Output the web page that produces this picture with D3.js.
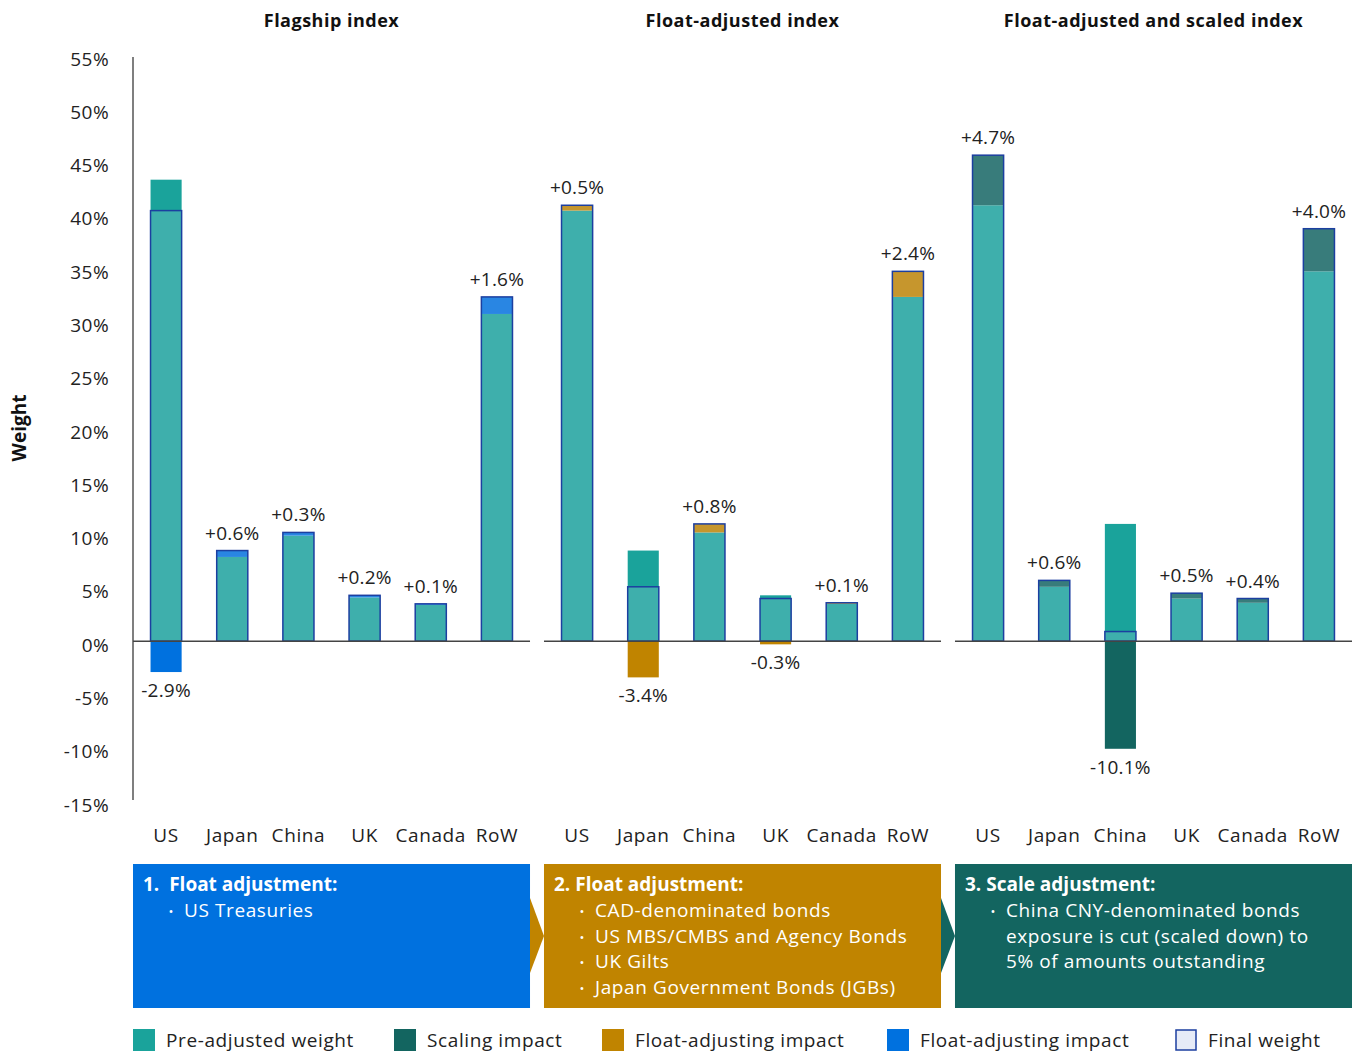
<!DOCTYPE html>
<html lang="en">
  <head>
    <meta charset="UTF-8" />
    <title>Index weights</title>
    <script src="https://cdn.jsdelivr.net/npm/d3@7"></script>
    <style>
      html,
      body {
        margin: 0;
        padding: 0;
        background: #fff;
      }
      text {
        font-family: 'Open Sans', Lato, sans-serif;
      }
    </style>
  </head>
  <body>
    <script>
      // data (% weight)
      const countries = ['US', 'Japan', 'China', 'UK', 'Canada', 'RoW'];
      const panelTitles = [
        'Flagship index',
        'Float-adjusted index',
        'Float-adjusted and scaled index',
      ];

      const preFlagship = [43.3, 7.9, 9.9, 4.1, 3.4, 30.7];
      const impactFlagship = [-2.9, 0.6, 0.3, 0.2, 0.1, 1.6];

      const preFloat = [40.4, 8.5, 10.2, 4.3, 3.5, 32.3];
      const impactFloat = [0.5, -3.4, 0.8, -0.3, 0.1, 2.4];

      const preScaled = [40.9, 5.1, 11.0, 4.0, 3.6, 34.7];
      const impactScaled = [4.7, 0.6, -10.1, 0.5, 0.4, 4.0];

      const yTickValues = [-15, -10, -5, 0, 5, 10, 15, 20, 25, 30, 35, 40, 45, 50, 55];

      const boxTitles = ['1.  Float adjustment:', '2. Float adjustment:', '3. Scale adjustment:'];
      const boxBullets = [
        [['US Treasuries']],
        [
          ['CAD-denominated bonds'],
          ['US MBS/CMBS and Agency Bonds'],
          ['UK Gilts'],
          ['Japan Government Bonds (JGBs)'],
        ],
        [['China CNY-denominated bonds', 'exposure is cut (scaled down) to', '5% of amounts outstanding']],
      ];

      const legendLabels = [
        'Pre-adjusted weight',
        'Scaling impact',
        'Float-adjusting impact',
        'Float-adjusting impact',
        'Final weight',
      ];

      const colors = {
        pre: '#1aa39b',
        scaling: '#136560',
        gold: '#c08400',
        blue: '#0071df',
        finalFill: '#e6ebf7',
        finalStroke: '#1c3fa0',
      };

      const panels = [
        { title: panelTitles[0], pre: preFlagship, impact: impactFlagship, color: colors.blue },
        { title: panelTitles[1], pre: preFloat, impact: impactFloat, color: colors.gold },
        { title: panelTitles[2], pre: preScaled, impact: impactScaled, color: colors.scaling },
      ];
      const boxColors = [colors.blue, colors.gold, colors.scaling];

      const width = 1356,
        height = 1053;

      const svg = d3
        .select('body')
        .append('svg')
        .attr('width', width)
        .attr('height', height);

      const y = d3.scaleLinear().domain([-15, 55]).range([801, 55]);

      const panelX = d3
        .scaleBand()
        .domain(d3.range(panels.length))
        .range([133, 1352])
        .paddingInner(0.034)
        .paddingOuter(0);

      const x = d3
        .scaleBand()
        .domain(countries)
        .range([0, panelX.bandwidth()])
        .paddingInner(0.53)
        .paddingOuter(0.265);

      // y axis
      const yAxis = d3
        .axisLeft(y)
        .tickValues(yTickValues)
        .tickSize(0)
        .tickPadding(0)
        .tickFormat(d => d + '%');

      const gy = svg
        .append('g')
        .attr('transform', 'translate(109,4)')
        .call(yAxis);
      gy.select('.domain').remove();
      gy.selectAll('text')
        .attr('font-size', 19)
        .attr('letter-spacing', 0.4)
        .attr('font-family', "'Open Sans', sans-serif")
        .attr('fill', '#222')
        .attr('x', 0);

      svg
        .append('line')
        .attr('x1', 133)
        .attr('x2', 133)
        .attr('y1', 57)
        .attr('y2', 800)
        .attr('stroke', '#555')
        .attr('stroke-width', 1.5);

      svg
        .append('text')
        .attr('transform', `translate(26, ${y(20)}) rotate(-90)`)
        .attr('text-anchor', 'middle')
        .attr('font-size', 19)
        .attr('font-weight', 700)
        .attr('fill', '#111')
        .text('Weight');

      const fmt = v => (v > 0 ? '+' : '') + v.toFixed(1) + '%';

      panels.forEach((p, i) => {
        const g = svg.append('g').attr('transform', `translate(${panelX(i)},0)`);

        g.append('text')
          .attr('x', panelX.bandwidth() / 2)
          .attr('y', 27)
          .attr('text-anchor', 'middle')
          .attr('font-size', 18)
          .attr('font-weight', 700)
          .attr('letter-spacing', 0.5)
          .attr('fill', '#111')
          .text(p.title);

        const rows = countries.map((c, j) => ({
          c,
          pre: p.pre[j],
          impact: p.impact[j],
          fin: +(p.pre[j] + p.impact[j]).toFixed(1),
        }));

        // pre-adjusted weight
        g.selectAll('.pre')
          .data(rows)
          .join('rect')
          .attr('class', 'pre')
          .attr('x', d => x(d.c))
          .attr('width', x.bandwidth())
          .attr('y', d => y(d.pre))
          .attr('height', d => y(0) - y(d.pre))
          .attr('fill', colors.pre);

        // impact: stacked on top when positive, below zero when negative
        g.selectAll('.impact')
          .data(rows)
          .join('rect')
          .attr('class', 'impact')
          .attr('x', d => x(d.c))
          .attr('width', x.bandwidth())
          .attr('y', d => (d.impact > 0 ? y(d.fin) : y(0)))
          .attr('height', d => (d.impact > 0 ? y(d.pre) - y(d.fin) : y(d.impact) - y(0)))
          .attr('fill', p.color);

        // final weight overlay
        g.selectAll('.final')
          .data(rows)
          .join('rect')
          .attr('class', 'final')
          .attr('x', d => x(d.c))
          .attr('width', x.bandwidth())
          .attr('y', d => y(d.fin))
          .attr('height', d => y(0) - y(d.fin))
          .attr('fill', colors.finalFill)
          .attr('fill-opacity', 0.18)
          .attr('stroke', colors.finalStroke)
          .attr('stroke-width', 1.5);

        g.append('line')
          .attr('x1', 0)
          .attr('x2', panelX.bandwidth())
          .attr('y1', y(0))
          .attr('y2', y(0))
          .attr('stroke', '#444')
          .attr('stroke-width', 1.5);

        g.selectAll('.val')
          .data(rows)
          .join('text')
          .attr('class', 'val')
          .attr('x', d => x(d.c) + x.bandwidth() / 2)
          .attr('y', d => (d.impact > 0 ? y(d.fin) - 11 : y(d.impact) + 25))
          .attr('text-anchor', 'middle')
          .attr('font-size', 19)
          .attr('letter-spacing', 0.2)
          .attr('fill', '#222')
          .text(d => fmt(d.impact));

        g.selectAll('.cat')
          .data(countries)
          .join('text')
          .attr('class', 'cat')
          .attr('x', d => x(d) + x.bandwidth() / 2)
          .attr('y', 842)
          .attr('text-anchor', 'middle')
          .attr('font-size', 19)
          .attr('letter-spacing', 0.6)
          .attr('fill', '#222')
          .text(d => d);

        // explanation box
        const bx = panelX(i),
          bw = panelX.bandwidth();
        const box = svg.append('g');
        if (i > 0) {
          box
            .append('path')
            .attr('d', `M${bx - 14},898 L${bx},936 L${bx - 14},973 Z`)
            .attr('fill', boxColors[i]);
        }
        box
          .append('rect')
          .attr('x', bx)
          .attr('y', 864)
          .attr('width', bw)
          .attr('height', 144)
          .attr('fill', boxColors[i]);

        box
          .append('text')
          .attr('x', bx + 10)
          .attr('y', 891)
          .attr('font-size', 19)
          .attr('font-weight', 700)
          .attr('fill', '#fff')
          .style('white-space', 'pre')
          .text(boxTitles[i]);

        let line = 0;
        boxBullets[i].forEach(b => {
          b.forEach((t, k) => {
            const ly = 917 + line * 25.5;
            if (k === 0) {
              box
                .append('text')
                .attr('x', bx + 38)
                .attr('y', ly - 1)
                .attr('text-anchor', 'middle')
                .attr('font-size', 13)
                .attr('fill', '#fff')
                .text('•');
            }
            box
              .append('text')
              .attr('x', bx + 51)
              .attr('y', ly)
              .attr('font-size', 19)
              .attr('letter-spacing', 0.6)
              .attr('fill', '#fff')
              .text(t);
            line++;
          });
        });
      });

      // legend
      const legendX = [133, 394, 602, 887, 1175];
      const legendFill = [colors.pre, colors.scaling, colors.gold, colors.blue, colors.finalFill];
      const lg = svg
        .selectAll('.legend')
        .data(legendLabels)
        .join('g')
        .attr('class', 'legend')
        .attr('transform', (d, i) => `translate(${legendX[i]},1029)`);

      lg.append('rect')
        .attr('x', (d, i) => (i === 4 ? 1 : 0))
        .attr('y', (d, i) => (i === 4 ? 1 : 0))
        .attr('width', (d, i) => (i === 4 ? 20 : 22))
        .attr('height', (d, i) => (i === 4 ? 20 : 22))
        .attr('fill', (d, i) => legendFill[i])
        .attr('stroke', (d, i) => (i === 4 ? colors.finalStroke : 'none'))
        .attr('stroke-width', 1.5);

      lg.append('text')
        .attr('x', 33)
        .attr('y', 18)
        .attr('font-size', 19)
        .attr('letter-spacing', 0.6)
        .attr('fill', '#222')
        .text(d => d);
    </script>
  </body>
</html>
